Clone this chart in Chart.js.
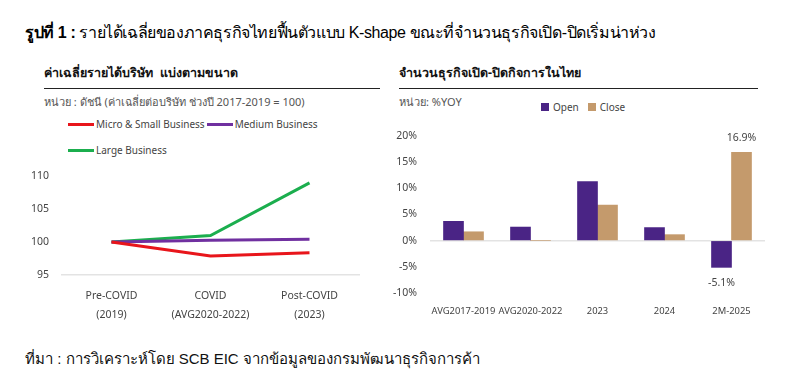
<!DOCTYPE html>
<html>
<head>
<meta charset="utf-8">
<script src="https://cdn.jsdelivr.net/npm/chart.js@4.4.1/dist/chart.umd.min.js"></script>
<style>
  body { margin: 0; width: 800px; height: 389px; background: #fff; position: relative; overflow: hidden;
         font-family: "Noto Sans", sans-serif; color: #333; }
  .abs { position: absolute; white-space: nowrap; }
  .title { left: 25px; top: 20px; font-family: "Liberation Sans", Arial, sans-serif; font-size: 16px; letter-spacing: -0.4px; color: #000; }
  .head { font-size: 12.5px; font-weight: bold; color: #111; }
  .rule { height: 0; border-top: 1.5px solid #222; }
  .unit { font-size: 11px; color: #555; }
  .leg { font-size: 10px; color: #444; display: flex; align-items: center; }
  .leg i { display: inline-block; width: 26px; height: 3px; margin-right: 2px; }
  .leg b { display: inline-block; width: 8px; height: 8px; margin-right: 4px; }
  .source { left: 25px; top: 347px; font-family: "Liberation Sans", Arial, sans-serif; font-size: 15px; color: #111; }
  canvas { position: absolute; }
</style>
</head>
<body>
<div class="abs title"><b>รูปที่ 1 :</b> รายได้เฉลี่ยของภาคธุรกิจไทยฟื้นตัวแบบ K-shape ขณะที่จำนวนธุรกิจเปิด-ปิดเริ่มน่าห่วง</div>

<div class="abs head" style="left:44px; top:63px;">ค่าเฉลี่ยรายได้บริษัท &nbsp;แบ่งตามขนาด</div>
<div class="abs rule" style="left:44px; top:88px; width:336px;"></div>
<div class="abs unit" style="left:44px; top:93px;">หน่วย : ดัชนี (ค่าเฉลี่ยต่อบริษัท ช่วงปี 2017-2019 = 100)</div>
<div id="legLeft1" class="abs leg" style="left:68px; top:117px;"></div>
<div id="legLeft2" class="abs leg" style="left:68px; top:143px;"></div>

<div class="abs head" style="left:399px; top:63px;">จำนวนธุรกิจเปิด-ปิดกิจการในไทย</div>
<div class="abs rule" style="left:399px; top:88px; width:359px;"></div>
<div class="abs unit" style="left:399px; top:93px;">หน่วย: %YOY</div>
<div id="legRight" class="abs leg" style="left:541px; top:100px;"></div>

<canvas id="lineChart" style="left:20px; top:157px;" width="345" height="173"></canvas>
<canvas id="barChart" style="left:390px; top:116px;" width="385" height="214"></canvas>

<div class="abs source">ที่มา : การวิเคราะห์โดย SCB EIC จากข้อมูลของกรมพัฒนาธุรกิจการค้า</div>

<script>
// left chart data
var periodLabels = [["Pre-COVID", "(2019)"], ["COVID", "(AVG2020-2022)"], ["Post-COVID", "(2023)"]];
var microSmall = [100, 97.9, 98.4];
var medium = [100, 100.3, 100.45];
var large = [100, 101.0, 109.0];
var indexTicks = [95, 100, 105, 110];

// right chart data
var yearLabels = ["AVG2017-2019", "AVG2020-2022", "2023", "2024", "2M-2025"];
var openPct = [3.7, 2.6, 11.3, 2.5, -5.1];
var closePct = [1.7, 0, 6.8, 1.15, 16.9];
var pctTicks = [-10, -5, 0, 5, 10, 15, 20];
var labelledIndex = [4];

var tickFont = { family: "'Noto Sans', sans-serif", size: 10.5 };

var lineSets = [
    { label: "Micro & Small Business", data: microSmall, borderColor: "#e8151b" },
    { label: "Medium Business", data: medium, borderColor: "#7030a0" },
    { label: "Large Business", data: large, borderColor: "#1bae4e" }
];
lineSets.forEach(function(ds) {
    ds.backgroundColor = ds.borderColor;
    ds.borderWidth = 3;
    ds.pointRadius = 0;
    ds.tension = 0;
});

// html legends
function legendItem(label, color, kind) {
    var s = document.createElement("span");
    s.style.display = "flex";
    s.style.alignItems = "center";
    s.style.marginRight = kind === "box" ? "9px" : "2px";
    var mark = document.createElement(kind === "box" ? "b" : "i");
    mark.style.background = color;
    s.appendChild(mark);
    s.appendChild(document.createTextNode(label));
    return s;
}
document.getElementById("legLeft1").appendChild(legendItem(lineSets[0].label, lineSets[0].borderColor, "line"));
document.getElementById("legLeft1").appendChild(legendItem(lineSets[1].label, lineSets[1].borderColor, "line"));
document.getElementById("legLeft2").appendChild(legendItem(lineSets[2].label, lineSets[2].borderColor, "line"));

new Chart(document.getElementById("lineChart").getContext("2d"), {
    type: "line",
    data: { labels: periodLabels, datasets: lineSets },
    options: {
        responsive: false,
        animation: false,
        layout: { padding: { top: 12, right: 6, left: 0, bottom: 0 } },
        plugins: { legend: { display: false }, tooltip: { enabled: false } },
        scales: {
            x: {
                offset: true,
                grid: { display: false },
                border: { display: true, color: "#e3e3e3", width: 1.5 },
                ticks: { color: "#444", font: { family: "'Noto Sans', sans-serif", size: 10.5, lineHeight: 1.8 }, padding: 4, maxRotation: 0 },
                afterFit: function(scale) { scale.height = 55; }
            },
            y: {
                min: 95,
                max: 110,
                afterBuildTicks: function(scale) {
                    scale.ticks = indexTicks.map(function(v) { return { value: v }; });
                },
                grid: { display: false, drawTicks: false },
                border: { display: false },
                ticks: { color: "#444", font: tickFont, padding: 13 },
                afterFit: function(scale) { scale.width = 42; }
            }
        }
    }
});

var barSets = [
    { label: "Open", data: openPct, backgroundColor: "#4a2485" },
    { label: "Close", data: closePct, backgroundColor: "#c49a6c" }
];
document.getElementById("legRight").appendChild(legendItem(barSets[0].label, barSets[0].backgroundColor, "box"));
document.getElementById("legRight").appendChild(legendItem(barSets[1].label, barSets[1].backgroundColor, "box"));

var valueLabels = {
    id: "valueLabels",
    afterDatasetsDraw: function(chart) {
        var ctx = chart.ctx;
        ctx.save();
        ctx.font = "10.5px 'Noto Sans', sans-serif";
        ctx.fillStyle = "#444";
        ctx.textAlign = "center";
        ctx.textBaseline = "middle";
        chart.data.datasets.forEach(function(ds, di) {
            var meta = chart.getDatasetMeta(di);
            labelledIndex.forEach(function(i) {
                var bar = meta.data[i];
                var v = ds.data[i];
                var y = v >= 0 ? bar.y - 14 : bar.y + 16;
                ctx.fillText(v.toFixed(1) + "%", bar.x, y);
            });
        });
        ctx.restore();
    }
};

new Chart(document.getElementById("barChart").getContext("2d"), {
    type: "bar",
    data: { labels: yearLabels, datasets: barSets },
    plugins: [valueLabels],
    options: {
        responsive: false,
        animation: false,
        layout: { padding: { top: 20, right: 10, left: 0, bottom: 0 } },
        datasets: { bar: { barThickness: 20, categoryPercentage: 0.69 } },
        plugins: { legend: { display: false }, tooltip: { enabled: false } },
        scales: {
            x: {
                grid: { display: false },
                border: { display: false },
                ticks: { color: "#444", font: { family: "'Noto Sans', sans-serif", size: 9.4 }, padding: 5, maxRotation: 0, autoSkip: false },
                afterFit: function(scale) { scale.height = 37; }
            },
            y: {
                min: -10,
                max: 20,
                afterBuildTicks: function(scale) {
                    scale.ticks = pctTicks.map(function(v) { return { value: v }; });
                },
                grid: {
                    drawTicks: false,
                    lineWidth: 1.5,
                    color: function(c) { return c.tick && c.tick.value === 0 ? "#e3e3e3" : "rgba(0,0,0,0)"; }
                },
                border: { display: false },
                ticks: {
                    color: "#444",
                    font: tickFont,
                    padding: 13,
                    callback: function(v) { return v + "%"; }
                },
                afterFit: function(scale) { scale.width = 40; }
            }
        }
    }
});
</script>
</body>
</html>
